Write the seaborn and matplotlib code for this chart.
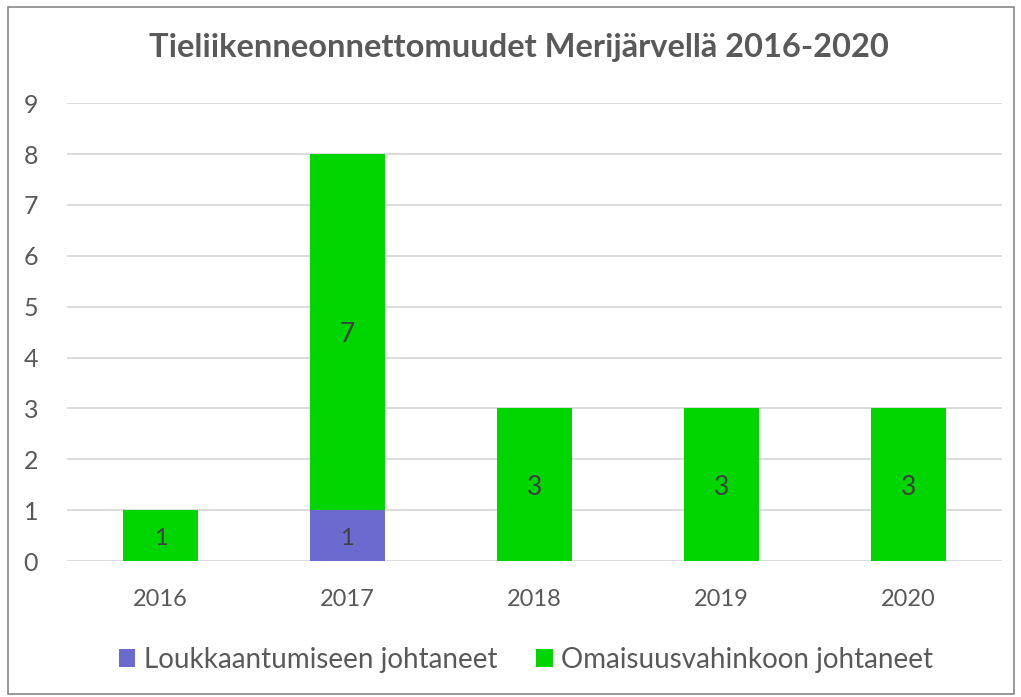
import matplotlib
matplotlib.use("Agg")
import matplotlib.pyplot as plt
import seaborn as sns
import pandas as pd
from matplotlib.patches import Patch, Rectangle

years = ["2016", "2017", "2018", "2019", "2020"]
injury = [0, 1, 0, 0, 0]
property_damage = [1, 7, 3, 3, 3]
series_names = ["Loukkaantumiseen johtaneet", "Omaisuusvahinkoon johtaneet"]
title = "Tieliikenneonnettomuudet Merijärvellä 2016-2020"

c_inj = "#6B6BCF"
c_prop = "#00D500"
txt = "#595959"

sns.set_theme(style="white")
plt.rcParams["font.family"] = ["Lato", "DejaVu Sans"]

df = pd.DataFrame({"year": years, "inj": injury, "prop": property_damage})
df["total"] = df["inj"] + df["prop"]

fig = plt.figure(figsize=(10.21, 6.97), dpi=100)
ax = fig.add_axes([0.0656, 0.195, 0.9154, 0.657])

sns.barplot(data=df, x="year", y="total", color=c_prop, width=0.4, ax=ax,
            saturation=1, edgecolor="none", zorder=3)
sns.barplot(data=df, x="year", y="inj", color=c_inj, width=0.4, ax=ax,
            saturation=1, edgecolor="none", zorder=4)

for i, (a, b) in enumerate(zip(injury, property_damage)):
    if a:
        ax.text(i, a / 2 - 0.05, str(a), ha="center", va="center", fontsize=17, color="#404040", zorder=5)
    if b:
        fs = 17 if b == 1 else 19
        ax.text(i, a + b / 2 - 0.05, str(b), ha="center", va="center", fontsize=fs, color="#404040", zorder=5)

ax.set_ylim(0, 9)
ax.set_xlim(-0.5, 4.5)
ax.set_yticks(range(10))
ax.yaxis.grid(True, color="#D9D9D9", linewidth=1.3, zorder=0)
ax.set_axisbelow(True)
for s in ax.spines.values():
    s.set_visible(False)
ax.set_xlabel("")
ax.set_ylabel("")
ax.tick_params(axis="y", labelsize=18, colors=txt, pad=26, length=0)
ax.tick_params(axis="x", labelsize=17, colors=txt, pad=20, length=0)
for lab in ax.get_yticklabels():
    lab.set_horizontalalignment("center")

fig.suptitle(title, x=0.508, y=0.952, fontsize=23.5, fontweight="bold", color=txt)

handles = [Patch(facecolor=c_inj, edgecolor="none"), Patch(facecolor=c_prop, edgecolor="none")]
fig.legend(handles, series_names, loc="center", bbox_to_anchor=(0.515, 0.053), ncol=2,
           frameon=False, fontsize=20, labelcolor=txt, handlelength=0.6, handleheight=0.6,
           handletextpad=0.3, columnspacing=1.4)

fig.patches.append(Rectangle((0.008, 0.005), 0.985, 0.985, transform=fig.transFigure,
                             fill=False, edgecolor="#888888", linewidth=1.2))

fig.savefig("out.png", dpi=100)
